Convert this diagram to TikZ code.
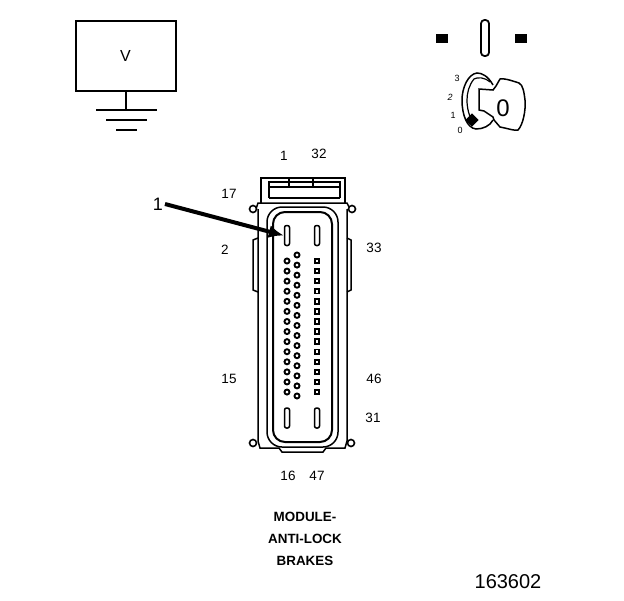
\documentclass[tikz,border=0pt]{standalone}
\usepackage{fontspec}
\setmainfont{Liberation Sans}
\usetikzlibrary{calc,positioning,arrows.meta,shapes.geometric}
\tikzset{
  lab/.style={font=\fontsize{13.5}{15}\selectfont,inner sep=0pt},
  keylab/.style={font=\fontsize{9}{10}\selectfont,inner sep=0pt},
  title/.style={font=\fontsize{13.4}{15}\selectfont\bfseries,inner sep=0pt},
  roundpin/.style={circle,draw,line width=1.9pt,fill=white,minimum size=5pt,inner sep=0pt},
  squarepin/.style={rectangle,draw,line width=1.9pt,fill=white,minimum size=4.5pt,inner sep=0pt},
  slotpin/.style={draw,line width=1.5pt,rounded corners=2pt,minimum width=5pt,minimum height=20pt,inner sep=0pt},
  tabring/.style={circle,draw,line width=1.6pt,fill=white,minimum size=7pt,inner sep=0pt},
  block/.style={fill=black,inner sep=0pt,minimum width=12pt,minimum height=9pt}
}
\begin{document}
\begin{tikzpicture}[x=1pt,y=-1pt,line width=1.5pt]
\useasboundingbox (0,0) rectangle (624,600);
% voltmeter
\node (meter) at (125.5,56) [draw,line width=2pt,minimum width=100pt,minimum height=70pt,inner sep=0pt,font=\fontsize{16}{18}\selectfont] {V};
\coordinate (gnd) at (125.5,110);
\draw[line width=2pt] (meter.south) -- (gnd);
\draw[line width=2pt] (96,110) -- (157,110);
\draw[line width=2pt] (106,120) -- (147,120);
\draw[line width=2pt] (116,130) -- (137,130);
% ignition
\node (lamp1) at (442,38) [block] {};
\node (lamp2) at (521,38) [block] {};
\node (slot) at (485,38) [draw,line width=1.8pt,rounded corners=3.5pt,minimum width=8pt,minimum height=36pt,inner sep=0pt] {};
\draw (493,85) .. controls (488,76) and (482,73) .. (477,73) .. controls (468,74) and (462,88) .. (462,100) .. controls (462,115) and (467,128) .. (476,129) .. controls (483,129) and (490,126) .. (493,120);
\draw[line width=1.2pt] (490,82) .. controls (484,77) and (478,77) .. (474,79) .. controls (469,85) and (467,93) .. (467,100) .. controls (467,108) and (469,116) .. (473,123);
\draw (479,89) -- (479,110) -- (484,111) -- (493,117) -- (494,120) -- (500,127) .. controls (510,129) and (515,131) .. (518,130) .. controls (523,125) and (526,110) .. (525,100) .. controls (524,92) and (523,85) .. (519,83) .. controls (510,80) and (503,78) .. (500,79) -- (496,86) -- (493,90) -- cycle;
\node (keynum) at (503,108) [inner sep=0pt,font=\fontsize{24}{26}\selectfont] {0};
\node (keydot) at (472,120) [fill=black,diamond,inner sep=3.5pt] {};
\node (key3) at (457,78) [keylab] {3};
\node (key2) at (450,97) [keylab,font=\fontsize{9}{10}\selectfont\itshape] {2};
\node (key1) at (453,115) [keylab] {1};
\node (key0) at (460,130) [keylab] {0};
% connector shell
\draw (261,203) -- (261,178) -- (345,178) -- (345,203);
\draw (269,198) -- (269,182) -- (340,182) -- (340,198);
\draw (269,187) -- (340,187);
\draw (289,178) -- (289,187);
\draw (313,178) -- (313,187);
\draw[line width=2pt] (269,198) -- (340,198);
\draw (256,209) -- (258,203) -- (347,203) -- (350,209);
\draw (258,209) -- (258,441) -- (260,448) -- (279,448) -- (282,452) -- (323,452) -- (326,448) -- (345,448) -- (347,441) -- (347,209);
\node (tabA) at (253,209) [tabring] {};
\node (tabB) at (352,209) [tabring] {};
\node (tabC) at (253,443) [tabring] {};
\node (tabD) at (351,443) [tabring] {};
\draw (258,238) -- (253,240) -- (253,290) -- (258,292);
\draw (347,238) -- (351,240) -- (351,290) -- (347,292);
\draw[rounded corners=15pt] (267,330) -- (267,447) -- (338,447) -- (338,207) -- (267,207) -- cycle;
\draw[line width=2pt,rounded corners=12pt] (273,330) -- (273,442) -- (332,442) -- (332,212) -- (273,212) -- cycle;
% pins
\foreach \i in {0,...,13} {
  \node (left\i) at (287,261+10.08*\i) [roundpin] {};
  \node (right\i) at (317,261+10.08*\i) [squarepin] {};
}
\foreach \i in {0,...,14} {
  \node (mid\i) at (297,255+10.07*\i) [roundpin] {};
}
\node (slotA) at (287,235.5) [slotpin] {};
\node (slotB) at (317,235.5) [slotpin] {};
\node (slotC) at (287,418) [slotpin] {};
\node (slotD) at (317,418) [slotpin] {};
% pointer
\node (callout) at (158,204) [font=\fontsize{18}{20}\selectfont,inner sep=0pt] {1};
\coordinate (tail) at (165,204);
\draw[line width=4pt,-{Latex[length=15pt,width=13pt]}] (tail) -- (slotA.west);
% pin numbers
\node (n1) at (284,156) [lab] {1};
\node (n32) at (319,154) [lab] {32};
\node (n17) at (229,194) [lab] {17};
\node (n2) at (225,250) [lab] {2};
\node (n33) at (374,248) [lab] {33};
\node (n15) at (229,379) [lab] {15};
\node (n46) at (374,379) [lab] {46};
\node (n31) at (373,418) [lab] {31};
\node (n16) at (288,476) [lab] {16};
\node (n47) at (317,476) [lab] {47};
% captions
\node (t1) at (305,517) [title] {MODULE-};
\node (t2) at (305,539) [title] {ANTI-LOCK};
\node (t3) at (305,561) [title] {BRAKES};
\node (figno) at (508,582) [inner sep=0pt,font=\fontsize{20}{22}\selectfont] {163602};
\end{tikzpicture}
\end{document}
